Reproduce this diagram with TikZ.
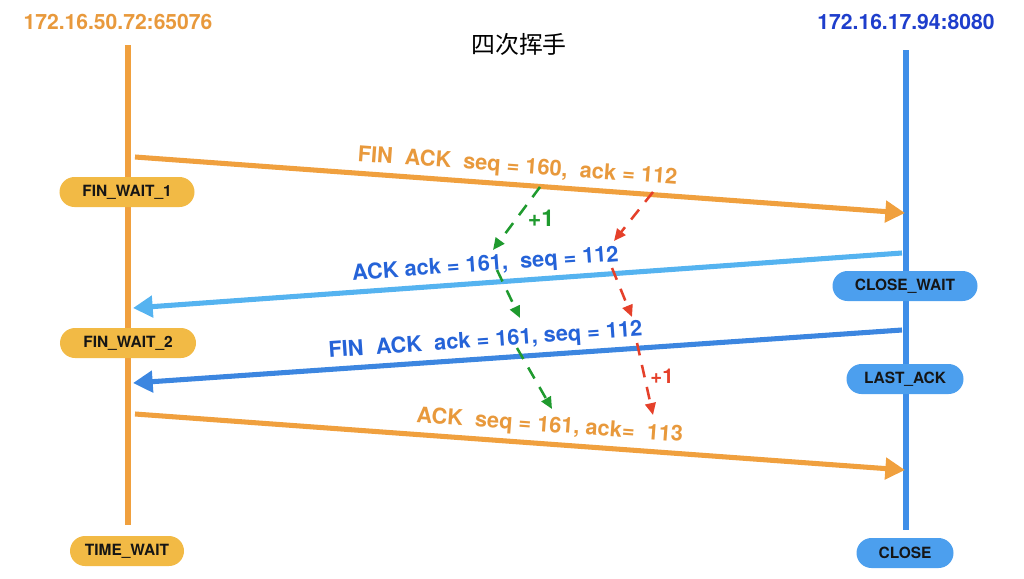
\documentclass[tikz,border=0pt]{standalone}
\usepackage{fontspec}
\setmainfont{TeX Gyre Heros}
\newfontfamily\cjk{Noto Sans CJK SC}
\usetikzlibrary{arrows.meta}
\definecolor{cliLine}{HTML}{F0A03E}
\definecolor{cliState}{HTML}{F2BA45}
\definecolor{cliText}{HTML}{E8993C}
\definecolor{srvLine}{HTML}{3E8EE8}
\definecolor{srvState}{HTML}{4C9FEE}
\definecolor{srvHost}{HTML}{1E3ECC}
\definecolor{srvText}{HTML}{2563D8}
\definecolor{ackBlue}{HTML}{55B3F0}
\definecolor{finBlue}{HTML}{3C86E0}
\definecolor{seqGreen}{HTML}{1F9A2E}
\definecolor{ackRed}{HTML}{E5402A}
\definecolor{stateText}{HTML}{151515}
\tikzset{
    lifeline/.style={line width=4.2pt},
    state/.style={minimum height=7.5mm, rounded corners=3.75mm, inner sep=0pt,
    font=\bfseries\fontsize{11}{13}\selectfont, text=stateText},
    hostlabel/.style={font=\bfseries\fontsize{15}{18}\selectfont},
    msg/.style={line width=3.6pt, -{Triangle[length=14pt,width=15pt]}},
    msglabel/.style={font=\bfseries\fontsize{15.5}{18}\selectfont, sloped, above=0pt},
    track/.style={line width=1.8pt, dash pattern=on 9pt off 7pt,
    -{Triangle[length=8.5pt,width=7.5pt]}},
    inc/.style={font=\bfseries\fontsize{16.5}{19}\selectfont},
}

\begin{document}
\begin{tikzpicture}[x=0.25mm, y=-0.25mm]
    \useasboundingbox (0,0) rectangle (1024,578);
    % --- hosts and title ---
    \node[hostlabel, text=cliText] (cli) at (118,22) {172.16.50.72:65076};
    \node[hostlabel, text=srvHost] (srv) at (906,22) {172.16.17.94:8080};
    \node[font=\cjk\fontsize{17}{20}\selectfont] (title) at (519,44) {四次挥手};
    % --- lifelines ---
    \coordinate (cliTop) at (128,45);
    \coordinate (cliBot) at (128,525);
    \coordinate (srvTop) at (906,50);
    \coordinate (srvBot) at (906,530);
    \draw[lifeline, cliLine] (cliTop) -- (cliBot);
    \draw[lifeline, srvLine] (srvTop) -- (srvBot);
    % --- states ---
    \node[state, fill=cliState, minimum width=33.75mm] (fw1) at (127,192) {FIN\_WAIT\_1};
    \node[state, fill=cliState, minimum width=34mm] (fw2) at (128,343) {FIN\_WAIT\_2};
    \node[state, fill=cliState, minimum width=28.5mm] (tw) at (127,551) {TIME\_WAIT};
    \node[state, fill=srvState, minimum width=36.25mm] (cw) at (905,286) {CLOSE\_WAIT};
    \node[state, fill=srvState, minimum width=29.25mm] (la) at (905,379) {LAST\_ACK};
    \node[state, fill=srvState, minimum width=24.25mm] (cl) at (905,553) {CLOSE};
    % --- segments ---
    \coordinate (m1s) at (135,157);
    \coordinate (m1e) at (905,213);
    \coordinate (m2s) at (902,253);
    \coordinate (m2e) at (133,308);
    \coordinate (m3s) at (902,330);
    \coordinate (m3e) at (133,383);
    \coordinate (m4s) at (135,414);
    \coordinate (m4e) at (905,470);
    \draw[msg, cliLine] (m1s) -- node[msglabel, pos=0.495, text=cliText] (l1)
        {FIN\ \ ACK\ \ seq = 160,\ \ ack = 112} (m1e);
    \draw[msg, ackBlue] (m2s) -- node[msglabel, pos=0.54, text=srvText] (l2)
        {ACK ack = 161,\ \ seq = 112} (m2e);
    \draw[msg, finBlue] (m3s) -- node[msglabel, pos=0.54, text=srvText] (l3)
        {FIN\ \ ACK\ \ ack = 161, seq = 112} (m3e);
    \draw[msg, cliLine] (m4s) -- node[msglabel, pos=0.537, text=cliText] (l4)
        {ACK\ \ seq = 161, ack=\ \ 113} (m4e);
    % --- seq / ack tracking ---
    \coordinate (g1s) at (540,187);
    \coordinate (g1e) at (493,250);
    \coordinate (g2s) at (497,270);
    \coordinate (g2e) at (520,318);
    \coordinate (g3s) at (517,348);
    \coordinate (g3e) at (552,409);
    \coordinate (r1s) at (653,192);
    \coordinate (r1e) at (614,241);
    \coordinate (r2s) at (612,268);
    \coordinate (r2e) at (632,317);
    \coordinate (r3s) at (637,343);
    \coordinate (r3e) at (653,415);
    \draw[track, seqGreen] (g1s) -- (g1e);
    \draw[track, seqGreen] (g2s) -- (g2e);
    \draw[track, seqGreen] (g3s) -- (g3e);
    \draw[track, ackRed] (r1s) -- (r1e);
    \draw[track, ackRed] (r2s) -- (r2e);
    \draw[track, ackRed] (r3s) -- (r3e);
    \node[inc, text=seqGreen] (gInc) at (541,218) {+1};
    \node[inc, text=ackRed, font=\bfseries\fontsize{14.5}{17}\selectfont] (rInc) at (662,376) {+1};
\end{tikzpicture}
\end{document}
